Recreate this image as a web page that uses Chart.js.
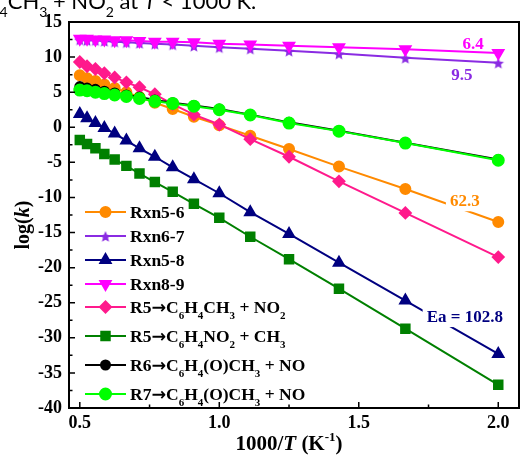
<!DOCTYPE html>
<html>
<head>
<meta charset="utf-8">
<script src="https://cdn.jsdelivr.net/npm/chart.js@4/dist/chart.umd.min.js"></script>
<style>
  html, body { margin: 0; padding: 0; background: #fff; overflow: hidden; }
  #wrap { position: relative; width: 523px; height: 460px; }
</style>
</head>
<body>
<div id="wrap"><canvas id="chart" width="523" height="460"></canvas></div>
<script>
// 1000/T for T = 2000 ... 500 K
const invT = [0.5, 0.526, 0.556, 0.588, 0.625, 0.667, 0.714, 0.769, 0.833, 0.909, 1.0, 1.111, 1.25, 1.429, 1.667, 2.0];

const rxn56 = [7.4, 7.0, 6.6, 6.1, 5.6, 5.0, 4.3, 3.5, 2.6, 1.5, 0.3, -1.2, -3.1, -5.6, -8.8, -13.5];
const rxn67 = [12.5, 12.4, 12.4, 12.3, 12.2, 12.1, 12.0, 11.9, 11.8, 11.6, 11.4, 11.2, 10.9, 10.5, 9.9, 9.2];
const rxn58 = [1.9, 1.3, 0.6, -0.1, -0.9, -1.9, -3.0, -4.2, -5.7, -7.4, -9.4, -12.1, -15.2, -19.3, -24.7, -32.3];
const rxn89 = [12.6, 12.6, 12.5, 12.5, 12.4, 12.4, 12.3, 12.2, 12.2, 12.1, 11.9, 11.8, 11.6, 11.4, 11.1, 10.6];
const r5ch3 = [9.3, 8.7, 8.3, 7.7, 7.1, 6.4, 5.7, 4.7, 3.3, 1.8, 0.4, -1.7, -4.2, -7.7, -12.2, -18.5];
const r5no2 = [-1.8, -2.4, -3.0, -3.8, -4.6, -5.5, -6.6, -7.8, -9.2, -10.9, -12.9, -15.6, -18.8, -23.0, -28.7, -36.7];
const r6no  = [5.8, 5.6, 5.4, 5.15, 4.9, 4.6, 4.3, 3.9, 3.5, 3.1, 2.6, 1.8, 0.7, -0.5, -2.2, -4.6];
const r7no  = [5.3, 5.2, 5.0, 4.8, 4.6, 4.4, 4.1, 3.7, 3.4, 3.0, 2.5, 1.75, 0.6, -0.55, -2.25, -4.7];

const seriesNames = [
  "Rxn5-6", "Rxn6-7", "Rxn5-8", "Rxn8-9",
  "R5→C₆H₄CH₃ + NO₂", "R5→C₆H₄NO₂ + CH₃",
  "R6→C₆H₄(O)CH₃ + NO", "R7→C₆H₄(O)CH₃ + NO",
];

const xTicks = [0.5, 1.0, 1.5, 2.0];
const xMinor = [0.75, 1.25, 1.75];
const yTicks = [-40, -35, -30, -25, -20, -15, -10, -5, 0, 5, 10, 15];
const yMinor = [-37.5, -32.5, -27.5, -22.5, -17.5, -12.5, -7.5, -2.5, 2.5, 7.5, 12.5];

// activation energy labels: [text, x, y]
const eaLabels = [
  ["6.4", 1.91, 12.0],
  ["9.5", 1.87, 7.6],
  ["62.3", 1.88, -10.4],
  ["Ea = 102.8", 1.88, -26.9],
];

const xTitle  = "1000/*T* (K⁻¹)";
const yTitle  = "log(*k*)";
const caption = "C₆H₄CH₃ + NO₂ at *T* < 1000 K.";

const FONT = "'Liberation Serif', 'Times New Roman', serif";

function starImage(color, r) {
  const cv = document.createElement("canvas");
  const s = Math.ceil(r * 2 + 2);
  cv.width = s; cv.height = s;
  const g = cv.getContext("2d");
  g.fillStyle = color;
  g.beginPath();
  for (let i = 0; i < 10; i++) {
    const rad = i % 2 ? r * 0.45 : r;
    const a = -Math.PI / 2 + i * Math.PI / 5;
    g.lineTo(s / 2 + rad * Math.cos(a), s / 2 + 1 + rad * Math.sin(a));
  }
  g.closePath();
  g.fill();
  return cv;
}

const styles = [
  { color: "#ff8a00", point: "circle",   radius: 5 },
  { color: "#8a2be2", point: starImage("#8a2be2", 6), radius: 5 },
  { color: "#000080", point: "triangle", radius: 6 },
  { color: "#ff00ff", point: "triangle", radius: 6, rotation: 180 },
  { color: "#ff1a8c", point: "rectRot",  radius: 5.5 },
  { color: "#008000", point: "rect",     radius: 6 },
  { color: "#000000", point: "circle",   radius: 4.5 },
  { color: "#00ff00", point: "circle",   radius: 5.5 },
];
const seriesData = [rxn56, rxn67, rxn58, rxn89, r5ch3, r5no2, r6no, r7no];
const eaColors = ["#ff00ff", "#8a2be2", "#ff8a00", "#000080"];
const eaBoxed  = [false, false, true, true];
const legendRows = [212, 236, 260, 284, 307, 336, 365, 394];

function richParts(str) {
  const subs = "₀₁₂₃₄₅₆₇₈₉", sups = "⁰¹²³⁴⁵⁶⁷⁸⁹⁻", plain = "0123456789-";
  const out = [];
  let it = false;
  for (const ch of str) {
    if (ch === "*") { it = !it; continue; }
    let mode = "n", t = ch;
    const si = subs.indexOf(ch), pi = sups.indexOf(ch);
    if (si >= 0) { mode = "sub"; t = plain[si]; }
    else if (pi >= 0) { mode = "sup"; t = plain[pi]; }
    else if (ch === "→") mode = "arrow";
    const last = out[out.length - 1];
    if (last && last.mode === mode && last.it === it) last.t += t;
    else out.push({ t, mode, it });
  }
  return out;
}

function drawRich(ctx, str, x, y, size, o = {}) {
  const parts = richParts(str);
  const fam = o.family || FONT, wt = o.weight || "bold";
  const fontFor = p => {
    if (p.mode === "arrow") return `${wt} ${size}px 'DejaVu Sans', sans-serif`;
    return `${p.it ? "italic " : ""}${wt} ${p.mode === "n" ? size : Math.round(size * 0.62)}px ${fam}`;
  };
  let w = 0;
  for (const p of parts) { ctx.font = fontFor(p); p.w = ctx.measureText(p.t).width; w += p.w; }
  let cx = o.align === "center" ? x - w / 2 : x;
  ctx.textAlign = "left";
  ctx.textBaseline = "alphabetic";
  for (const p of parts) {
    ctx.font = fontFor(p);
    const dy = p.mode === "sub" ? size * 0.35 : p.mode === "sup" ? -size * 0.42 : p.mode === "arrow" ? -size * 0.02 : 0;
    ctx.fillText(p.t, cx, y + dy);
    cx += p.w;
  }
  return w;
}

const decor = {
  id: "decor",
  afterDatasetsDraw(chart) {
    const ctx = chart.ctx, xs = chart.scales.x, ys = chart.scales.y;
    ctx.save();
    eaLabels.forEach(([txt, vx, vy], i) => {
      const px = xs.getPixelForValue(vx), py = ys.getPixelForValue(vy);
      ctx.font = `bold 17px ${FONT}`;
      const w = ctx.measureText(txt).width;
      if (eaBoxed[i]) {
        ctx.fillStyle = "#fff";
        ctx.fillRect(px - w / 2 - 4, py - 11, w + 8, 22);
      }
      ctx.fillStyle = eaColors[i];
      drawRich(ctx, txt, px, py + 6, 17, { align: "center" });
    });
    ctx.restore();
  },
  afterDraw(chart) {
    const ctx = chart.ctx, a = chart.chartArea, xs = chart.scales.x, ys = chart.scales.y;
    ctx.save();
    ctx.strokeStyle = "#000";
    ctx.lineWidth = 2;
    ctx.strokeRect(a.left, a.top, a.right - a.left + 4, a.bottom - a.top);
    ctx.lineWidth = 1.5;
    ctx.beginPath();
    yTicks.forEach(v => { const y = ys.getPixelForValue(v); ctx.moveTo(a.left, y); ctx.lineTo(a.left + 6, y); });
    yMinor.forEach(v => { const y = ys.getPixelForValue(v); ctx.moveTo(a.left, y); ctx.lineTo(a.left + 3.5, y); });
    xTicks.forEach(v => { const x = xs.getPixelForValue(v); ctx.moveTo(x, a.bottom); ctx.lineTo(x, a.bottom - 6); });
    xMinor.forEach(v => { const x = xs.getPixelForValue(v); ctx.moveTo(x, a.bottom); ctx.lineTo(x, a.bottom - 3.5); });
    ctx.stroke();

    // legend
    seriesNames.forEach((name, i) => {
      const y = legendRows[i], st = styles[i];
      ctx.strokeStyle = st.color;
      ctx.fillStyle = st.color;
      ctx.lineWidth = 2;
      ctx.beginPath(); ctx.moveTo(85, y); ctx.lineTo(126, y); ctx.stroke();
      Chart.helpers.drawPoint(ctx, { pointStyle: st.point, radius: st.radius, rotation: st.rotation || 0, borderWidth: 1 }, 105.5, y);
      ctx.fillStyle = "#000";
      drawRich(ctx, name, 130, y + 6, 17.5);
    });

    // axis titles
    ctx.fillStyle = "#000";
    drawRich(ctx, xTitle, 289, 450, 21, { align: "center" });
    ctx.save();
    ctx.translate(29, 225);
    ctx.rotate(-Math.PI / 2);
    drawRich(ctx, yTitle, 0, 0, 20, { align: "center" });
    ctx.restore();

    // caption cut off at the top of the figure
    drawRich(ctx, caption, -40, 9, 22, { family: "Lato, 'Open Sans', sans-serif", weight: "normal" });
    ctx.restore();
  },
};

const tickFont = { family: FONT, size: 18, weight: "bold" };

new Chart(document.getElementById("chart"), {
  type: "line",
  data: {
    datasets: seriesNames.map((name, i) => ({
      label: name,
      data: seriesData[i].map((v, j) => ({ x: invT[j], y: v })),
      borderColor: styles[i].color,
      backgroundColor: styles[i].color,
      pointBackgroundColor: styles[i].color,
      pointBorderColor: styles[i].color,
      pointStyle: styles[i].point,
      pointRadius: styles[i].radius,
      pointRotation: styles[i].rotation || 0,
      borderWidth: 2,
      tension: 0,
      fill: false,
      order: seriesNames.length - i,
    })),
  },
  options: {
    responsive: false,
    animation: false,
    devicePixelRatio: 1,
    layout: { padding: { top: 22, right: 0, left: 0, bottom: 0 } },
    plugins: { legend: { display: false }, tooltip: { enabled: false } },
    scales: {
      x: {
        type: "linear",
        min: 0.4613,
        max: 2.06,
        grid: { display: false, drawTicks: false },
        border: { display: false },
        afterBuildTicks: s => { s.ticks = xTicks.map(v => ({ value: v })); },
        afterFit: s => { s.height = 52; },
        ticks: { font: tickFont, color: "#000", padding: 5, maxRotation: 0, autoSkip: false, callback: v => v.toFixed(1) },
      },
      y: {
        min: -40,
        max: 15,
        grid: { display: false, drawTicks: false },
        border: { display: false },
        afterBuildTicks: s => { s.ticks = yTicks.map(v => ({ value: v })); },
        afterFit: s => { s.width = 69; },
        ticks: { font: tickFont, color: "#000", padding: 7, autoSkip: false, callback: v => String(v) },
      },
    },
  },
  plugins: [decor],
});
</script>
</body>
</html>
